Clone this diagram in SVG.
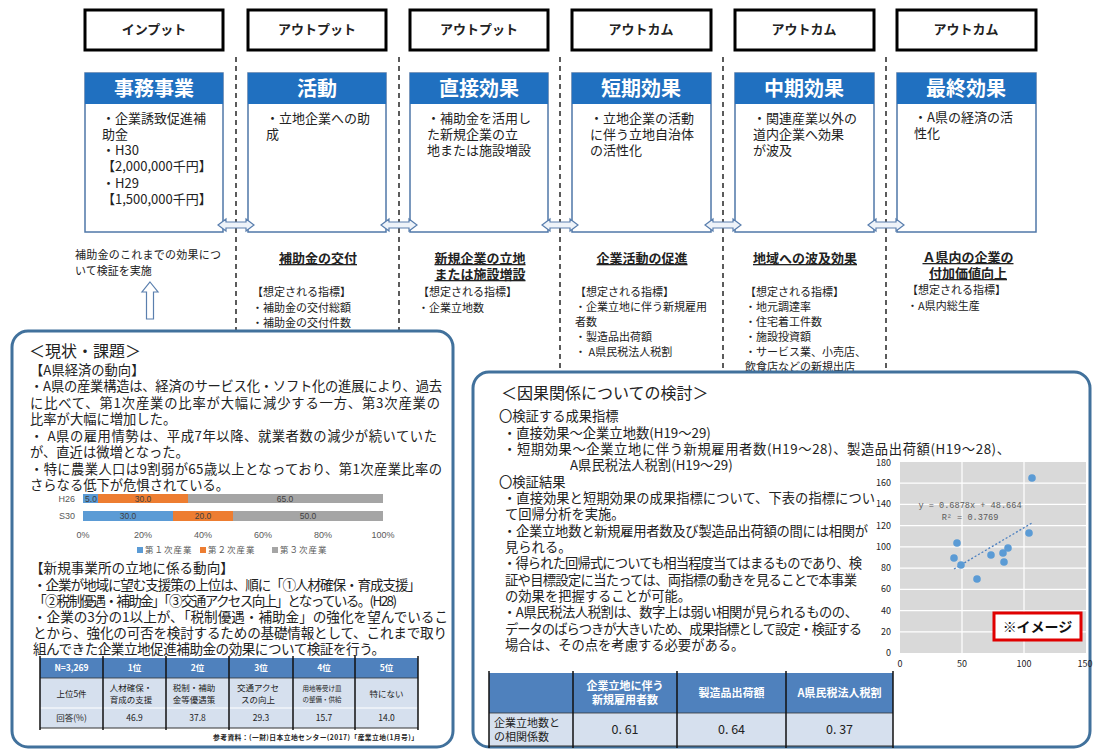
<svg xmlns="http://www.w3.org/2000/svg" width="1094" height="751" viewBox="0 0 1094 751">
<defs>
<style>
text{font-family:'Noto Sans CJK JP','Noto Sans CJK SC',sans-serif;fill:#222}
.hdr{fill:#fff;stroke:#000;stroke-width:3}
.hdrt{font-size:13px;font-weight:bold;text-anchor:middle}
.band{fill:#2070C0}
.body{fill:#fff;stroke:#4F77A8;stroke-width:1.5}
.title{font-size:20px;font-weight:bold;fill:#fff;text-anchor:middle}
.bt{font-size:13px}
.ind{font-size:11px}
.ul{font-size:13px;font-weight:bold;text-anchor:middle;text-decoration:underline}
.dash{stroke:#333;stroke-width:1.6;stroke-dasharray:5 4;fill:none}
.darr{fill:#eef3f9;stroke:#5A7FAE;stroke-width:1.2}
.panel{fill:#fff;stroke:#41719C;stroke-width:3}
.pt{font-size:13.3px}
.pt2{font-size:13.6px}
.ph{font-size:16px}
.ax{font-family:'Liberation Sans',sans-serif;font-size:9px;fill:#595959}
.bl{font-family:'Liberation Sans',sans-serif;font-size:8.5px;fill:#404040;text-anchor:middle}
.lg{font-size:8.5px;fill:#595959;letter-spacing:1px}
.th{fill:#4F81BD}
.tr{fill:#D6E0EE}
.tht{font-size:8.5px;font-weight:bold;fill:#fff;text-anchor:middle}
.tdt{font-size:8.5px;text-anchor:middle}
.vl{stroke:#111;stroke-width:1.5}
.pd{fill:#5B9BD5}
</style>
</defs>
<rect width="1094" height="751" fill="#fff"/>

<g id="node-input">
<rect class="hdr" x="85" y="10" width="138" height="40"/>
<text class="hdrt" x="154" y="34">インプット</text>
<rect class="body" x="85" y="73" width="138" height="159"/>
<rect class="band" x="85" y="73" width="138" height="31"/>
<text class="title" x="154" y="96">事務事業</text>
<text class="bt" x="102" y="123">・企業誘致促進補</text>
<text class="bt" x="102" y="139">助金</text>
<text class="bt" x="102" y="155">・H30</text>
<text class="bt" x="102" y="171">【2,000,000千円】</text>
<text class="bt" x="102" y="188">・H29</text>
<text class="bt" x="102" y="204">【1,500,000千円】</text>
</g>

<g id="node-katsudo">
<rect class="hdr" x="248" y="10" width="138" height="40"/>
<text class="hdrt" x="317" y="34">アウトプット</text>
<rect class="body" x="248" y="73" width="138" height="159"/>
<rect class="band" x="248" y="73" width="138" height="31"/>
<text class="title" x="317" y="96">活動</text>
<text class="bt" x="266" y="123">・立地企業への助</text>
<text class="bt" x="266" y="139">成</text>
</g>

<g id="node-chokusetsu">
<rect class="hdr" x="410" y="10" width="138" height="40"/>
<text class="hdrt" x="479" y="34">アウトプット</text>
<rect class="body" x="410" y="73" width="138" height="159"/>
<rect class="band" x="410" y="73" width="138" height="31"/>
<text class="title" x="479" y="96">直接効果</text>
<text class="bt" x="427" y="123">・補助金を活用し</text>
<text class="bt" x="427" y="139">た新規企業の立</text>
<text class="bt" x="427" y="155">地または施設増設</text>
</g>

<g id="node-tanki">
<rect class="hdr" x="572" y="10" width="139" height="40"/>
<text class="hdrt" x="641" y="34">アウトカム</text>
<rect class="body" x="572" y="73" width="139" height="159"/>
<rect class="band" x="572" y="73" width="139" height="31"/>
<text class="title" x="641" y="96">短期効果</text>
<text class="bt" x="590" y="123">・立地企業の活動</text>
<text class="bt" x="590" y="139">に伴う立地自治体</text>
<text class="bt" x="590" y="155">の活性化</text>
</g>

<g id="node-chuki">
<rect class="hdr" x="735" y="10" width="139" height="40"/>
<text class="hdrt" x="804" y="34">アウトカム</text>
<rect class="body" x="735" y="73" width="139" height="159"/>
<rect class="band" x="735" y="73" width="139" height="31"/>
<text class="title" x="804" y="96">中期効果</text>
<text class="bt" x="753" y="123">・関連産業以外の</text>
<text class="bt" x="753" y="139">道内企業へ効果</text>
<text class="bt" x="753" y="155">が波及</text>
</g>

<g id="node-saishu">
<rect class="hdr" x="897" y="10" width="139" height="40"/>
<text class="hdrt" x="966" y="34">アウトカム</text>
<rect class="body" x="897" y="73" width="139" height="159"/>
<rect class="band" x="897" y="73" width="139" height="31"/>
<text class="title" x="966" y="96">最終効果</text>
<text class="bt" x="914" y="122">・A県の経済の活</text>
<text class="bt" x="914" y="138">性化</text>
</g>

<g id="connectors">
<line class="dash" x1="236" y1="57" x2="236" y2="331"/>
<line class="dash" x1="399" y1="57" x2="399" y2="331"/>
<line class="dash" x1="560" y1="57" x2="560" y2="377"/>
<line class="dash" x1="723" y1="57" x2="723" y2="377"/>
<line class="dash" x1="886" y1="57" x2="886" y2="377"/>
<polygon class="darr" points="218,225 226,219 226,222 246,222 246,219 254,225 246,231 246,228 226,228 226,231"/>
<polygon class="darr" points="381,225 389,219 389,222 409,222 409,219 417,225 409,231 409,228 389,228 389,231"/>
<polygon class="darr" points="542,225 550,219 550,222 570,222 570,219 578,225 570,231 570,228 550,228 550,231"/>
<polygon class="darr" points="705,225 713,219 713,222 733,222 733,219 741,225 733,231 733,228 713,228 713,231"/>
<polygon class="darr" points="868,225 876,219 876,222 896,222 896,219 904,225 896,231 896,228 876,228 876,231"/>
<polygon class="darr" points="150,282 158,292 153.5,292 153.5,319 146.5,319 146.5,292 142,292" style="fill:#fff"/>
</g>

<g id="node-kensho">
<text class="ind" x="75" y="259" textLength="146">補助金のこれまでの効果につ</text>
<text class="ind" x="75" y="275">いて検証を実施</text>
</g>

<g id="node-kofu">
<text class="ul" x="318" y="263">補助金の交付</text>
<text class="ind" x="252" y="296">【想定される指標】</text>
<text class="ind" x="252" y="312">・補助金の交付総額</text>
<text class="ind" x="252" y="327">・補助金の交付件数</text>
</g>

<g id="node-ritchi">
<text class="ul" x="480" y="263">新規企業の立地</text>
<text class="ul" x="480" y="279">または施設増設</text>
<text class="ind" x="418" y="296">【想定される指標】</text>
<text class="ind" x="418" y="312">・企業立地数</text>
</g>

<g id="node-sokushin">
<text class="ul" x="642" y="263">企業活動の促進</text>
<text class="ind" x="575" y="296">【想定される指標】</text>
<text class="ind" x="575" y="311">・企業立地に伴う新規雇用</text>
<text class="ind" x="575" y="326">者数</text>
<text class="ind" x="575" y="341">・製造品出荷額</text>
<text class="ind" x="575" y="356">・ A県民税法人税割</text>
</g>

<g id="node-hakyu">
<text class="ul" x="805" y="263">地域への波及効果</text>
<text class="ind" x="745" y="296">【想定される指標】</text>
<text class="ind" x="745" y="311">・地元調達率</text>
<text class="ind" x="745" y="326">・住宅着工件数</text>
<text class="ind" x="745" y="341">・施設投資額</text>
<text class="ind" x="745" y="356">・サービス業、小売店、</text>
<text class="ind" x="745" y="371">飲食店などの新規出店</text>
</g>

<g id="node-fuka">
<text class="ul" x="968" y="262">Ａ県内の企業の</text>
<text class="ul" x="968" y="278">付加価値向上</text>
<text class="ind" x="907" y="294">【想定される指標】</text>
<text class="ind" x="907" y="310">・A県内総生産</text>
</g>

<g id="panel-genjo">
<rect class="panel" x="12" y="331" width="441" height="416" rx="16"/>
<text class="ph" x="29" y="357">＜現状・課題＞</text>
<text class="pt" x="30" y="375">【A県経済の動向】</text>
<text class="pt" x="30" y="391" textLength="412">・A県の産業構造は、経済のサービス化・ソフト化の進展により、過去</text>
<text class="pt" x="30" y="408" textLength="410">に比べて、第1次産業の比率が大幅に減少する一方、第3次産業の</text>
<text class="pt" x="30" y="424">比率が大幅に増加した。</text>
<text class="pt" x="30" y="441" textLength="407">・ A県の雇用情勢は、平成7年以降、就業者数の減少が続いていた</text>
<text class="pt" x="30" y="457">が、直近は微増となった。</text>
<text class="pt" x="30" y="474" textLength="412">・特に農業人口は9割弱が65歳以上となっており、第1次産業比率の</text>
<text class="pt" x="30" y="490">さらなる低下が危惧されている。</text>
<g id="bar-chart">
<text class="ax" x="75" y="502" text-anchor="end">H26</text>
<text class="ax" x="75" y="519" text-anchor="end">S30</text>
<rect x="83" y="494" width="15" height="9" fill="#5B9BD5"/>
<rect x="98" y="494" width="90" height="9" fill="#ED7D31"/>
<rect x="188" y="494" width="195" height="9" fill="#A5A5A5"/>
<rect x="83" y="511" width="90" height="10" fill="#5B9BD5"/>
<rect x="173" y="511" width="60" height="10" fill="#ED7D31"/>
<rect x="233" y="511" width="150" height="10" fill="#A5A5A5"/>
<text class="bl" x="91" y="502">5.0</text>
<text class="bl" x="143" y="502">30.0</text>
<text class="bl" x="285" y="502">65.0</text>
<text class="bl" x="128" y="519">30.0</text>
<text class="bl" x="203" y="519">20.0</text>
<text class="bl" x="308" y="519">50.0</text>
<text class="ax" x="83" y="538" text-anchor="middle">0%</text>
<text class="ax" x="143" y="538" text-anchor="middle">20%</text>
<text class="ax" x="203" y="538" text-anchor="middle">40%</text>
<text class="ax" x="263" y="538" text-anchor="middle">60%</text>
<text class="ax" x="323" y="538" text-anchor="middle">80%</text>
<text class="ax" x="383" y="538" text-anchor="middle">100%</text>
<rect x="137" y="547" width="6" height="6" fill="#5B9BD5"/>
<text class="lg" x="145" y="553">第１次産業</text>
<rect x="200" y="547" width="6" height="6" fill="#ED7D31"/>
<text class="lg" x="208" y="553">第２次産業</text>
<rect x="272" y="547" width="6" height="6" fill="#A5A5A5"/>
<text class="lg" x="280" y="553">第３次産業</text>
</g>
<text class="pt2" x="30" y="573">【新規事業所の立地に係る動向】</text>
<text class="pt2" x="33" y="590" textLength="388">・企業が地域に望む支援策の上位は、順に「①人材確保・育成支援」</text>
<text class="pt2" x="33" y="606" textLength="364">「②税制優遇・補助金」「③交通アクセス向上」となっている。(H28)</text>
<text class="pt2" x="33" y="622" textLength="415">・企業の3分の1以上が、「税制優遇・補助金」の強化を望んでいるこ</text>
<text class="pt2" x="33" y="638" textLength="414">とから、強化の可否を検討するための基礎情報として、これまで取り</text>
<text class="pt2" x="33" y="654" textLength="352">組んできた企業立地促進補助金の効果について検証を行う。</text>
<g id="table-support">
<rect class="th" x="40" y="658" width="378" height="20"/>
<rect class="tr" x="40" y="678" width="378" height="30"/>
<rect class="tr" x="40" y="708" width="378" height="20"/>
<line x1="40" y1="708" x2="418" y2="708" stroke="#fff" stroke-width="1.2"/>
<line x1="40" y1="728" x2="418" y2="728" stroke="#333" stroke-width="1"/>
<line x1="40" y1="678" x2="418" y2="678" stroke="#333" stroke-width="0.8"/>
<line class="vl" x1="40" y1="656" x2="40" y2="730"/>
<line class="vl" x1="103" y1="656" x2="103" y2="730"/>
<line class="vl" x1="166" y1="656" x2="166" y2="730"/>
<line class="vl" x1="229" y1="656" x2="229" y2="730"/>
<line class="vl" x1="293" y1="656" x2="293" y2="730"/>
<line class="vl" x1="355" y1="656" x2="355" y2="730"/>
<line class="vl" x1="418" y1="656" x2="418" y2="730"/>
<text class="tht" x="71.5" y="671">N=3,269</text>
<text class="tht" x="134.5" y="671">1位</text>
<text class="tht" x="197.5" y="671">2位</text>
<text class="tht" x="261" y="671">3位</text>
<text class="tht" x="324" y="671">4位</text>
<text class="tht" x="386.5" y="671">5位</text>
<text class="tdt" x="71.5" y="697">上位5件</text>
<text class="tdt" x="131" y="691">人材確保・</text>
<text class="tdt" x="131" y="703">育成の支援</text>
<text class="tdt" x="194" y="691">税制・補助</text>
<text class="tdt" x="194" y="703">金等優遇策</text>
<text class="tdt" x="258" y="691">交通アクセ</text>
<text class="tdt" x="258" y="703">スの向上</text>
<text class="tdt" x="322" y="691" style="font-size:6.5px">用地等受け皿</text>
<text class="tdt" x="322" y="702" style="font-size:6.5px">の整備・供給</text>
<text class="tdt" x="386.5" y="697">特にない</text>
<text class="tdt" x="71.5" y="721">回答(%)</text>
<text class="tdt" x="134.5" y="721">46.9</text>
<text class="tdt" x="197.5" y="721">37.8</text>
<text class="tdt" x="261" y="721">29.3</text>
<text class="tdt" x="324" y="721">15.7</text>
<text class="tdt" x="386.5" y="721">14.0</text>
</g>
<text x="418" y="740" text-anchor="end" style="font-size:6.8px;font-weight:bold" textLength="205">参考資料：(一財)日本立地センター(2017)「産業立地(1月号)」</text>
</g>

<g id="panel-inga">
<rect class="panel" x="473" y="372" width="617" height="375" rx="16"/>
<text class="ph" x="501" y="399">＜因果関係についての検討＞</text>
<text class="pt" x="499" y="421">〇検証する成果指標</text>
<text class="pt" x="503" y="438">・直接効果～企業立地数(H19～29)</text>
<text class="pt" x="503" y="454" textLength="507">・短期効果～企業立地に伴う新規雇用者数(H19～28)、製造品出荷額(H19～28)、</text>
<text class="pt" x="570" y="470">A県民税法人税割(H19～29)</text>
<text class="pt" x="499" y="487">〇検証結果</text>
<text class="pt" x="503" y="503" textLength="372">・直接効果と短期効果の成果指標について、下表の指標につい</text>
<text class="pt" x="505" y="519">て回帰分析を実施。</text>
<text class="pt" x="503" y="536" textLength="365">・企業立地数と新規雇用者数及び製造品出荷額の間には相関が</text>
<text class="pt" x="505" y="552">見られる。</text>
<text class="pt" x="503" y="568" textLength="359">・得られた回帰式についても相当程度当てはまるものであり、検</text>
<text class="pt" x="505" y="585" textLength="352">証や目標設定に当たっては、両指標の動きを見ることで本事業</text>
<text class="pt" x="505" y="601">の効果を把握することが可能。</text>
<text class="pt" x="503" y="617" textLength="355">・A県民税法人税割は、数字上は弱い相関が見られるものの、</text>
<text class="pt" x="505" y="634" textLength="357">データのばらつきが大きいため、成果指標として設定・検証する</text>
<text class="pt" x="505" y="650">場合は、その点を考慮する必要がある。</text>
<g id="scatter">
<rect x="900" y="462" width="186" height="191" fill="#D9D9D9"/>
<g stroke="#fff" stroke-width="1.2">
<line x1="900" y1="631.8" x2="1086" y2="631.8"/>
<line x1="900" y1="610.6" x2="1086" y2="610.6"/>
<line x1="900" y1="589.3" x2="1086" y2="589.3"/>
<line x1="900" y1="568.1" x2="1086" y2="568.1"/>
<line x1="900" y1="546.9" x2="1086" y2="546.9"/>
<line x1="900" y1="525.7" x2="1086" y2="525.7"/>
<line x1="900" y1="504.4" x2="1086" y2="504.4"/>
<line x1="900" y1="483.2" x2="1086" y2="483.2"/>
<line x1="962" y1="462" x2="962" y2="653"/>
<line x1="1024" y1="462" x2="1024" y2="653"/>
</g>
<g class="ax" text-anchor="end">
<text x="891" y="656">0</text>
<text x="891" y="635">20</text>
<text x="891" y="614">40</text>
<text x="891" y="592">60</text>
<text x="891" y="571">80</text>
<text x="891" y="550">100</text>
<text x="891" y="529">120</text>
<text x="891" y="507">140</text>
<text x="891" y="486">160</text>
<text x="891" y="466">180</text>
</g>
<g class="ax" text-anchor="middle">
<text x="900" y="667">0</text>
<text x="962" y="667">50</text>
<text x="1024" y="667">100</text>
<text x="1085" y="667">150</text>
</g>
<line x1="954" y1="569" x2="1032" y2="523" stroke="#4A7FC0" stroke-width="1.3" stroke-dasharray="2 2"/>
<circle class="pd" cx="1032" cy="478" r="3.8"/>
<circle class="pd" cx="1029" cy="533" r="3.8"/>
<circle class="pd" cx="957" cy="543" r="3.8"/>
<circle class="pd" cx="954" cy="558" r="3.8"/>
<circle class="pd" cx="961" cy="565" r="3.8"/>
<circle class="pd" cx="977" cy="579" r="3.8"/>
<circle class="pd" cx="991" cy="555" r="3.8"/>
<circle class="pd" cx="1003" cy="553" r="3.8"/>
<circle class="pd" cx="1008" cy="548" r="3.8"/>
<circle class="pd" cx="1004" cy="562" r="3.8"/>
<text x="970" y="508" text-anchor="middle" style="font-family:'Liberation Mono',monospace;font-size:8.6px;fill:#595959">y = 0.6878x + 48.664</text>
<text x="970" y="520" text-anchor="middle" style="font-family:'Liberation Mono',monospace;font-size:8.6px;fill:#595959">R² = 0.3769</text>
<rect x="994" y="613" width="87" height="27" fill="#fff" stroke="#E00000" stroke-width="3"/>
<text x="1037.5" y="632" text-anchor="middle" style="font-size:14px;font-weight:bold;fill:#111">※イメージ</text>
</g>
<g id="table-corr">
<rect class="th" x="489" y="673" width="404" height="40"/>
<rect class="tr" x="489" y="713" width="404" height="33"/>
<line x1="489" y1="713" x2="893" y2="713" stroke="#333" stroke-width="0.8"/>
<line x1="489" y1="746" x2="893" y2="746" stroke="#333" stroke-width="1"/>
<line class="vl" x1="489" y1="671" x2="489" y2="748"/>
<line class="vl" x1="573" y1="671" x2="573" y2="748"/>
<line class="vl" x1="677" y1="671" x2="677" y2="748"/>
<line class="vl" x1="786" y1="671" x2="786" y2="748"/>
<line class="vl" x1="893" y1="671" x2="893" y2="748"/>
<text class="tht" x="625" y="690" style="font-size:11px">企業立地に伴う</text>
<text class="tht" x="625" y="704" style="font-size:11px">新規雇用者数</text>
<text class="tht" x="731.5" y="697" style="font-size:11px">製造品出荷額</text>
<text class="tht" x="839.5" y="697" style="font-size:11px">A県民税法人税割</text>
<text x="494" y="727" style="font-size:11px">企業立地数と</text>
<text x="494" y="741" style="font-size:11px">の相関係数</text>
<text x="625" y="734" text-anchor="middle" style="font-size:12.5px">0. 61</text>
<text x="731.5" y="734" text-anchor="middle" style="font-size:12.5px">0. 64</text>
<text x="839.5" y="734" text-anchor="middle" style="font-size:12.5px">0. 37</text>
</g>
</g>
</svg>
